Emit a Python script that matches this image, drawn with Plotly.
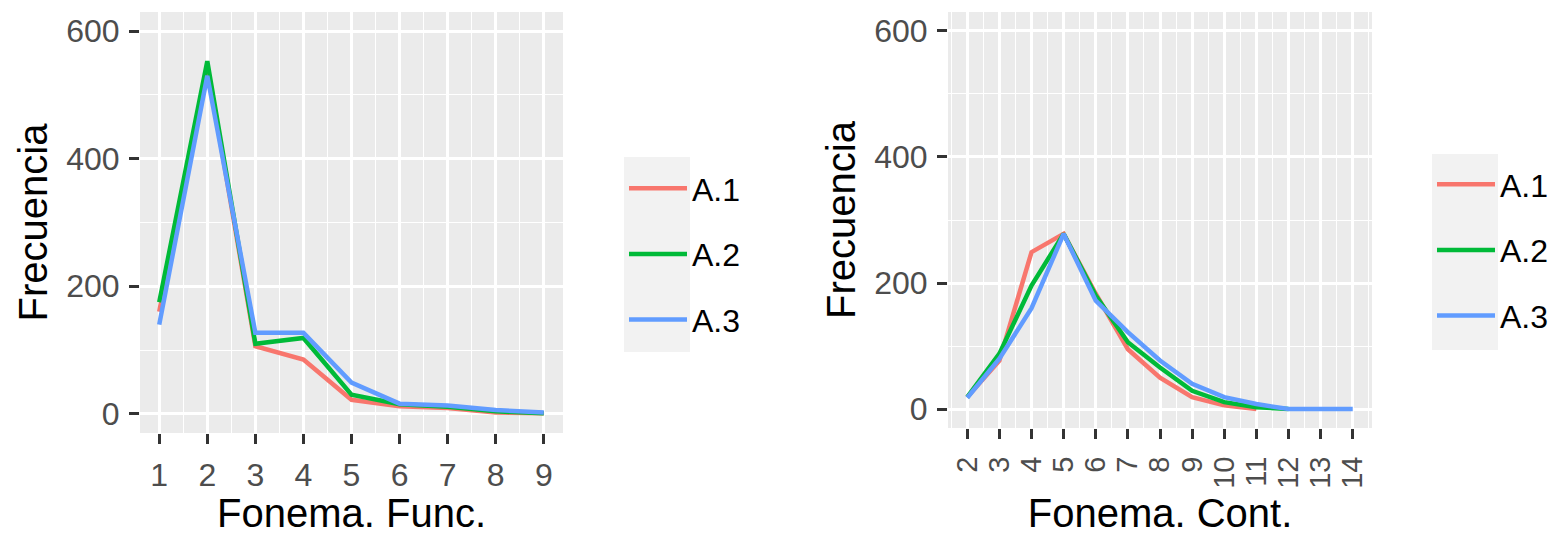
import plotly.graph_objects as go

# ---- data ----
series = ["A.1", "A.2", "A.3"]
colors = ["#F8766D", "#00BA38", "#619CFF"]

func_x = [1, 2, 3, 4, 5, 6, 7, 8, 9]
func_a1 = [160, 545, 106, 85, 22, 12, 9, 2, 1]
func_a2 = [175, 553, 110, 119, 30, 15, 11, 4, 1]
func_a3 = [140, 530, 127, 127, 49, 16, 13, 6, 2]

cont_x = [2, 3, 4, 5, 6, 7, 8, 9, 10, 11, 12, 13, 14]
cont_a1 = [19, 77, 249, 278, 183, 95, 50, 19, 6, 0, None, None, None]
cont_a2 = [19, 88, 196, 278, 180, 106, 66, 29, 11, 3, 0, None, None]
cont_a3 = [18, 80, 160, 278, 172, 122, 77, 40, 19, 8, 0, 0, 0]

y_ticks = [0, 200, 400, 600]

W, H = 1568, 535
FONT = "Liberation Sans, Arial, sans-serif"

fig = go.Figure()
for name, col, ys in zip(series, colors, [func_a1, func_a2, func_a3]):
    fig.add_trace(go.Scatter(x=func_x, y=ys, mode="lines", name=name,
                             line=dict(color=col, width=4.5),
                             xaxis="x", yaxis="y", legend="legend",
                             legendgroup="f" + name))
for name, col, ys in zip(series, colors, [cont_a1, cont_a2, cont_a3]):
    fig.add_trace(go.Scatter(x=cont_x, y=ys, mode="lines", name=name,
                             line=dict(color=col, width=4.5),
                             xaxis="x2", yaxis="y2", legend="legend2",
                             legendgroup="c" + name))

common = dict(showgrid=True, gridcolor="white", gridwidth=2.5, zeroline=False,
              ticks="outside", ticklen=10, tickwidth=2.5, tickcolor="#333333",
              showline=False, automargin=False,
              tickfont=dict(size=32, color="#4D4D4D", family=FONT))

title_font = dict(size=40, color="black", family=FONT)

fig.update_layout(
    width=W, height=H,
    margin=dict(l=0, r=0, t=0, b=0),
    paper_bgcolor="white", plot_bgcolor="#EBEBEB",
    font=dict(family=FONT),
    xaxis=dict(domain=[140 / W, 563 / W], range=[0.6, 9.4], anchor="y",
               tickmode="array", tickvals=func_x, ticklabelstandoff=4,
               minor=dict(dtick=0.5, tick0=0.5, showgrid=True, gridcolor="white", gridwidth=1.3),
               title=dict(text="Fonema. Func.", font=title_font, standoff=9),
               **common),
    yaxis=dict(domain=[1 - 433 / H, 1 - 12 / H], range=[-30, 630], anchor="x",
               tickmode="array", tickvals=y_ticks, ticklabelstandoff=3,
               minor=dict(dtick=100, tick0=0, showgrid=True, gridcolor="white", gridwidth=1.3),
               title=dict(text="Frecuencia", font=title_font, standoff=6),
               **common),
    xaxis2=dict(domain=[948 / W, 1372 / W], range=[1.4, 14.6], anchor="y2",
                tickmode="array", tickvals=cont_x, tickangle=-90, ticklabelstandoff=6,
                minor=dict(dtick=0.5, tick0=0.5, showgrid=True, gridcolor="white", gridwidth=1.3),
                title=dict(text="Fonema. Cont.", font=title_font, standoff=14),
                **{**common, "tickfont": dict(size=29, color="#4D4D4D", family=FONT)}),
    yaxis2=dict(domain=[1 - 428 / H, 1 - 12 / H], range=[-30, 630], anchor="x2",
                tickmode="array", tickvals=y_ticks, ticklabelstandoff=3,
                minor=dict(dtick=100, tick0=0, showgrid=True, gridcolor="white", gridwidth=1.3),
                title=dict(text="Frecuencia", font=title_font, standoff=6),
                **common),
    legend=dict(x=624 / W, xanchor="left", y=1 - 161 / H, yanchor="top",
                bgcolor="rgba(0,0,0,0)", font=dict(size=32, color="black", family=FONT),
                tracegroupgap=21, itemwidth=58, traceorder="grouped"),
    legend2=dict(x=1432 / W, xanchor="left", y=1 - 157 / H, yanchor="top",
                 bgcolor="rgba(0,0,0,0)", font=dict(size=32, color="black", family=FONT),
                 tracegroupgap=21, itemwidth=58, traceorder="grouped"),
    shapes=[
        dict(type="rect", xref="paper", yref="paper", x0=624 / W, x1=690 / W,
             y0=1 - 352 / H, y1=1 - 157 / H, fillcolor="#F2F2F2", line=dict(width=0), layer="below"),
        dict(type="rect", xref="paper", yref="paper", x0=1432 / W, x1=1498 / W,
             y0=1 - 350 / H, y1=1 - 154 / H, fillcolor="#F2F2F2", line=dict(width=0), layer="below"),
    ],
)

fig.write_html("out.html")
